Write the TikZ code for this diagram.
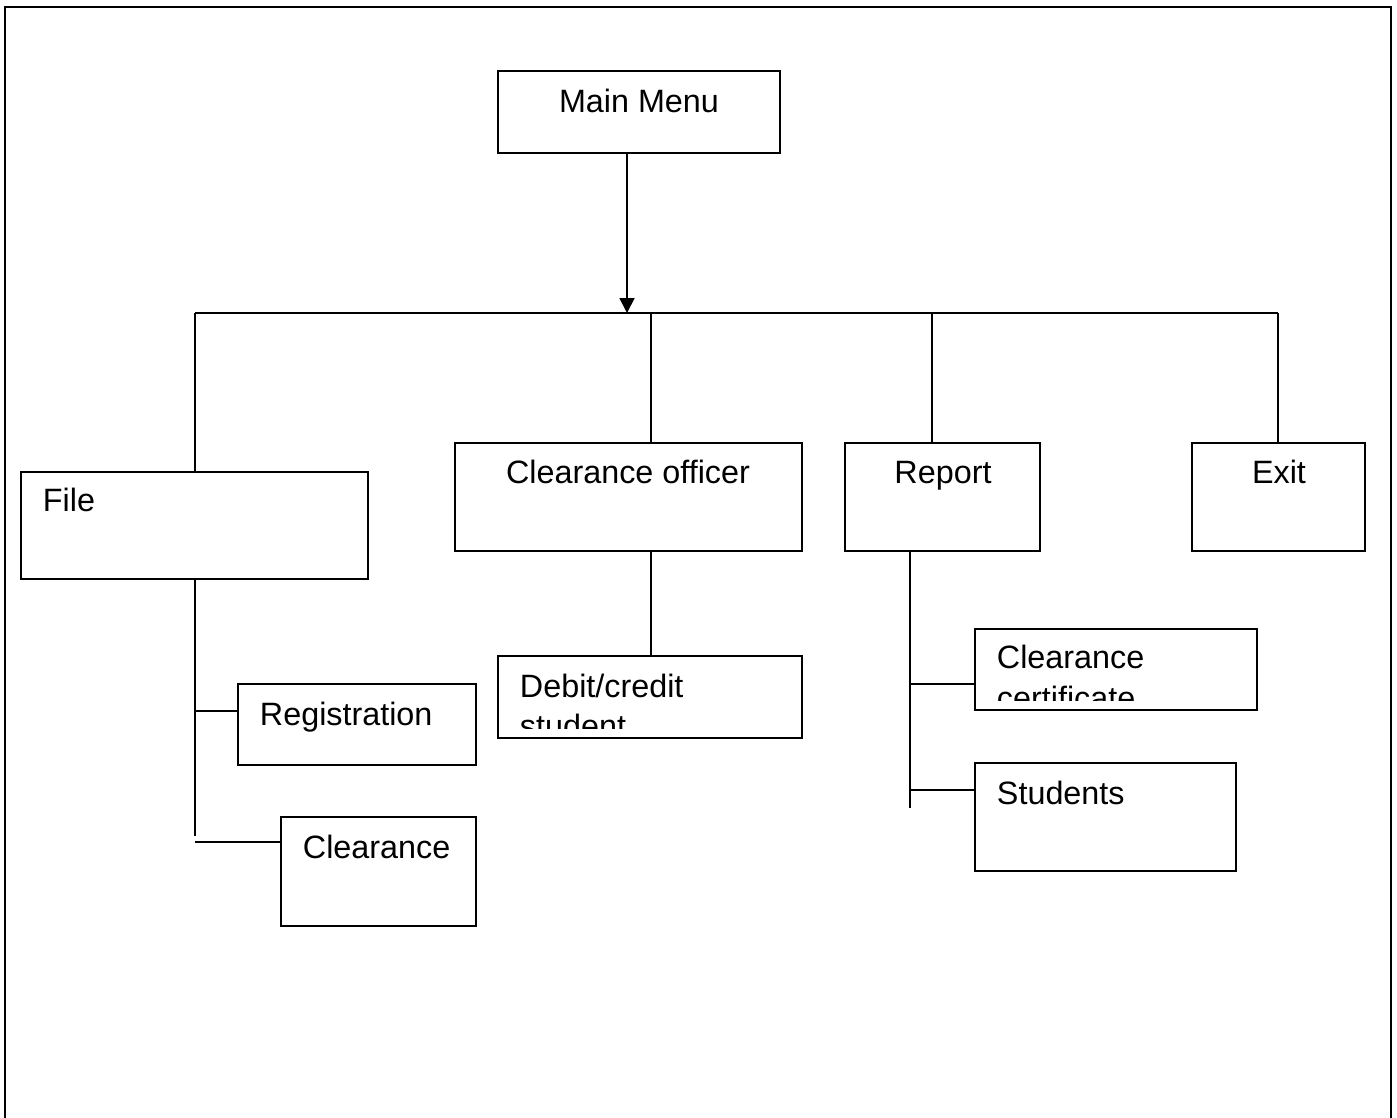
\documentclass[tikz,border=0pt]{standalone}
\usepackage{fontspec}
\setmainfont{Liberation Sans}
\usetikzlibrary{arrows.meta,fit,positioning}

\begin{document}
\begin{tikzpicture}[y=-0.02cm,x=0.02cm,line width=1.1pt,
	box/.style={draw,inner sep=0pt,fit={#1}},
	lbl/.style={inner sep=0pt,font=\fontsize{18.4}{22}\selectfont}]
	\useasboundingbox (0,0) rectangle (1397,1118);

	% page frame, open at the bottom
	\draw[line width=1.3pt] (5,1118) -- (5,7) -- (1391,7) -- (1391,1118);

	% boxes
	\node[box={(498,71) (780,153)}] (main) {};
	\node[box={(21,472) (368,579)}] (file) {};
	\node[box={(455,443) (802,551)}] (officer) {};
	\node[box={(845,443) (1040,551)}] (report) {};
	\node[box={(1192,443) (1365,551)}] (exit) {};
	\node[box={(238,684) (476,765)}] (reg) {};
	\node[box={(281,817) (476,926)}] (clr) {};
	\node[box={(498,656) (802,738)}] (debit) {};
	\node[box={(975,629) (1257,710)}] (cert) {};
	\node[box={(975,763) (1236,871)}] (stud) {};

	% texts
	\node[lbl,anchor=base] at (639,113) {Main Menu};
	\node[lbl,anchor=base west] at (42,512) {File};
	\node[lbl,anchor=base] at (628,484) {Clearance officer};
	\node[lbl,anchor=base] at (943,484) {Report};
	\node[lbl,anchor=base] at (1279,484) {Exit};
	\node[lbl,anchor=base west] at (259,725) {Registration};
	\node[lbl,anchor=base west] at (302,858) {Clearance};
	\node[lbl,anchor=base west] at (996,804) {Students};
	\begin{scope}
		\clip (498,656) rectangle (802,728);
		\node[lbl,anchor=base west] at (519,697) {Debit/credit};
		\node[lbl,anchor=base west] at (519,737) {student};
	\end{scope}
	\begin{scope}
		\clip (975,629) rectangle (1257,700);
		\node[lbl,anchor=base west] at (996,668) {Clearance};
		\node[lbl,anchor=base west] at (996,709) {certificate};
	\end{scope}

	% bus under the main menu
	\coordinate (bus) at (627,313);
	\coordinate (busL) at (195,313);
	\coordinate (busR) at (1278,313);
	\coordinate (dOff) at (651,313);
	\coordinate (dRep) at (932,313);
	\draw[-{Triangle[length=8.5pt,width=8.5pt]}] (main.south -| bus) -- (bus);
	\draw (busL) -- (busR);
	\draw (busL) -- (busL |- file.north);
	\draw (dOff) -- (dOff |- officer.north);
	\draw (dRep) -- (dRep |- report.north);
	\draw (busR) -- (busR |- exit.north);

	% file sub menu
	\coordinate (fEnd) at (195,836);
	\coordinate (fReg) at (195,711);
	\coordinate (fClr) at (195,842);
	\draw (fEnd |- file.south) -- (fEnd);
	\draw (fReg) -- (fReg -| reg.west);
	\draw (fClr) -- (fClr -| clr.west);

	% clearance officer sub menu
	\draw (dOff |- officer.south) -- (dOff |- debit.north);

	% report sub menu
	\coordinate (rEnd) at (910,808);
	\coordinate (rCert) at (910,684);
	\coordinate (rStud) at (910,790);
	\draw (rEnd |- report.south) -- (rEnd);
	\draw (rCert) -- (rCert -| cert.west);
	\draw (rStud) -- (rStud -| stud.west);
\end{tikzpicture}
\end{document}
